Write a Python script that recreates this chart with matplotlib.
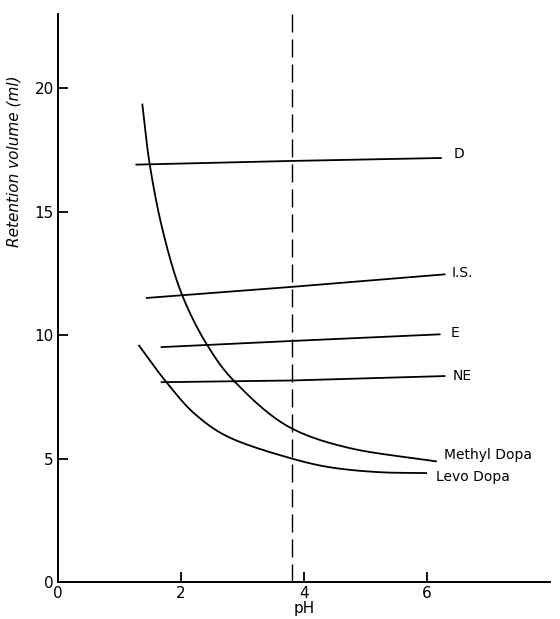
import matplotlib
matplotlib.use("Agg")
import matplotlib.pyplot as plt
import numpy as np

# Straight-ish lines (pH, retention volume)
d_ph = [1.26, 3.80, 6.24]
d_rv = [16.90, 17.05, 17.17]
is_ph = [1.43, 3.80, 6.30]
is_rv = [11.50, 11.95, 12.46]
e_ph = [1.67, 3.80, 6.22]
e_rv = [9.51, 9.76, 10.03]
ne_ph = [1.67, 3.80, 6.30]
ne_rv = [8.09, 8.16, 8.34]

# Curves
methyl_ph = [1.37, 1.49, 1.71, 2.02, 2.43, 2.87, 3.80, 4.73, 6.16]
methyl_rv = [19.37, 16.93, 14.16, 11.61, 9.58, 8.12, 6.22, 5.43, 4.88]
levo_ph = [1.31, 1.76, 2.25, 2.79, 3.80, 4.41, 5.20, 6.00]
levo_rv = [9.60, 8.10, 6.75, 5.85, 5.00, 4.65, 4.45, 4.41]

dashed_ph = 3.80

labels = ["D", "I.S.", "E", "NE", "Methyl Dopa", "Levo Dopa"]
label_x = [6.43, 6.40, 6.38, 6.42, 6.27, 6.14]
label_y = [17.33, 12.53, 10.10, 8.34, 5.16, 4.27]

xticks = [0, 2, 4, 6]
yticks = [0, 5, 10, 15, 20]


def smooth_path(xs, ys, n=30, alpha=0.5):
    """Centripetal Catmull-Rom path through the given points (drawing only)."""
    p = np.column_stack([xs, ys]).astype(float)
    p = np.vstack([2 * p[0] - p[1], p, 2 * p[-1] - p[-2]])
    out = []
    for i in range(1, len(p) - 2):
        P0, P1, P2, P3 = p[i - 1], p[i], p[i + 1], p[i + 2]
        t0 = 0.0
        t1 = t0 + np.linalg.norm(P1 - P0) ** alpha
        t2 = t1 + np.linalg.norm(P2 - P1) ** alpha
        t3 = t2 + np.linalg.norm(P3 - P2) ** alpha
        t = np.linspace(t1, t2, n, endpoint=False)[:, None]
        A1 = (t1 - t) / (t1 - t0) * P0 + (t - t0) / (t1 - t0) * P1
        A2 = (t2 - t) / (t2 - t1) * P1 + (t - t1) / (t2 - t1) * P2
        A3 = (t3 - t) / (t3 - t2) * P2 + (t - t2) / (t3 - t2) * P3
        B1 = (t2 - t) / (t2 - t0) * A1 + (t - t0) / (t2 - t0) * A2
        B2 = (t3 - t) / (t3 - t1) * A2 + (t - t1) / (t3 - t1) * A3
        C = (t2 - t) / (t2 - t1) * B1 + (t - t1) / (t2 - t1) * B2
        out.append(C)
    out.append(p[-2][None, :])
    out = np.vstack(out)
    return out[:, 0], out[:, 1]


fig = plt.figure(figsize=(5.6, 6.19), dpi=100)
ax = fig.add_axes([58/560, 1 - 582/619, (550-58)/560, (582-14)/619])
ax.set_xlim(0, 8)
ax.set_ylim(0, 23)

lw = 1.3
for xs, ys in [(d_ph, d_rv), (is_ph, is_rv), (e_ph, e_rv), (ne_ph, ne_rv)]:
    ax.plot(xs, ys, color="black", lw=lw, solid_capstyle="butt")
for xs, ys in [(methyl_ph, methyl_rv), (levo_ph, levo_rv)]:
    sx, sy = smooth_path(xs, ys)
    ax.plot(sx, sy, color="black", lw=lw, solid_capstyle="butt")

ax.axvline(dashed_ph, color="black", lw=1.0, dashes=(13, 5))

for t, x, y in zip(labels, label_x, label_y):
    ax.text(x, y, t, fontsize=10, va="center", ha="left")

for s in ["top", "right"]:
    ax.spines[s].set_visible(False)
for s in ["left", "bottom"]:
    ax.spines[s].set_linewidth(1.4)

ax.set_xticks(xticks)
ax.set_yticks(yticks)
ax.tick_params(axis="both", direction="in", length=7, width=1.3, labelsize=11)
ax.tick_params(axis="y", pad=3)
ax.tick_params(axis="x", pad=3)

ax.set_xlabel("pH", fontsize=11, labelpad=0)
ax.set_ylabel("Retention volume (ml)", fontsize=11, style="italic", labelpad=8)
ax.yaxis.set_label_coords(-0.075, 0.74)

fig.savefig("out.png", dpi=100)
